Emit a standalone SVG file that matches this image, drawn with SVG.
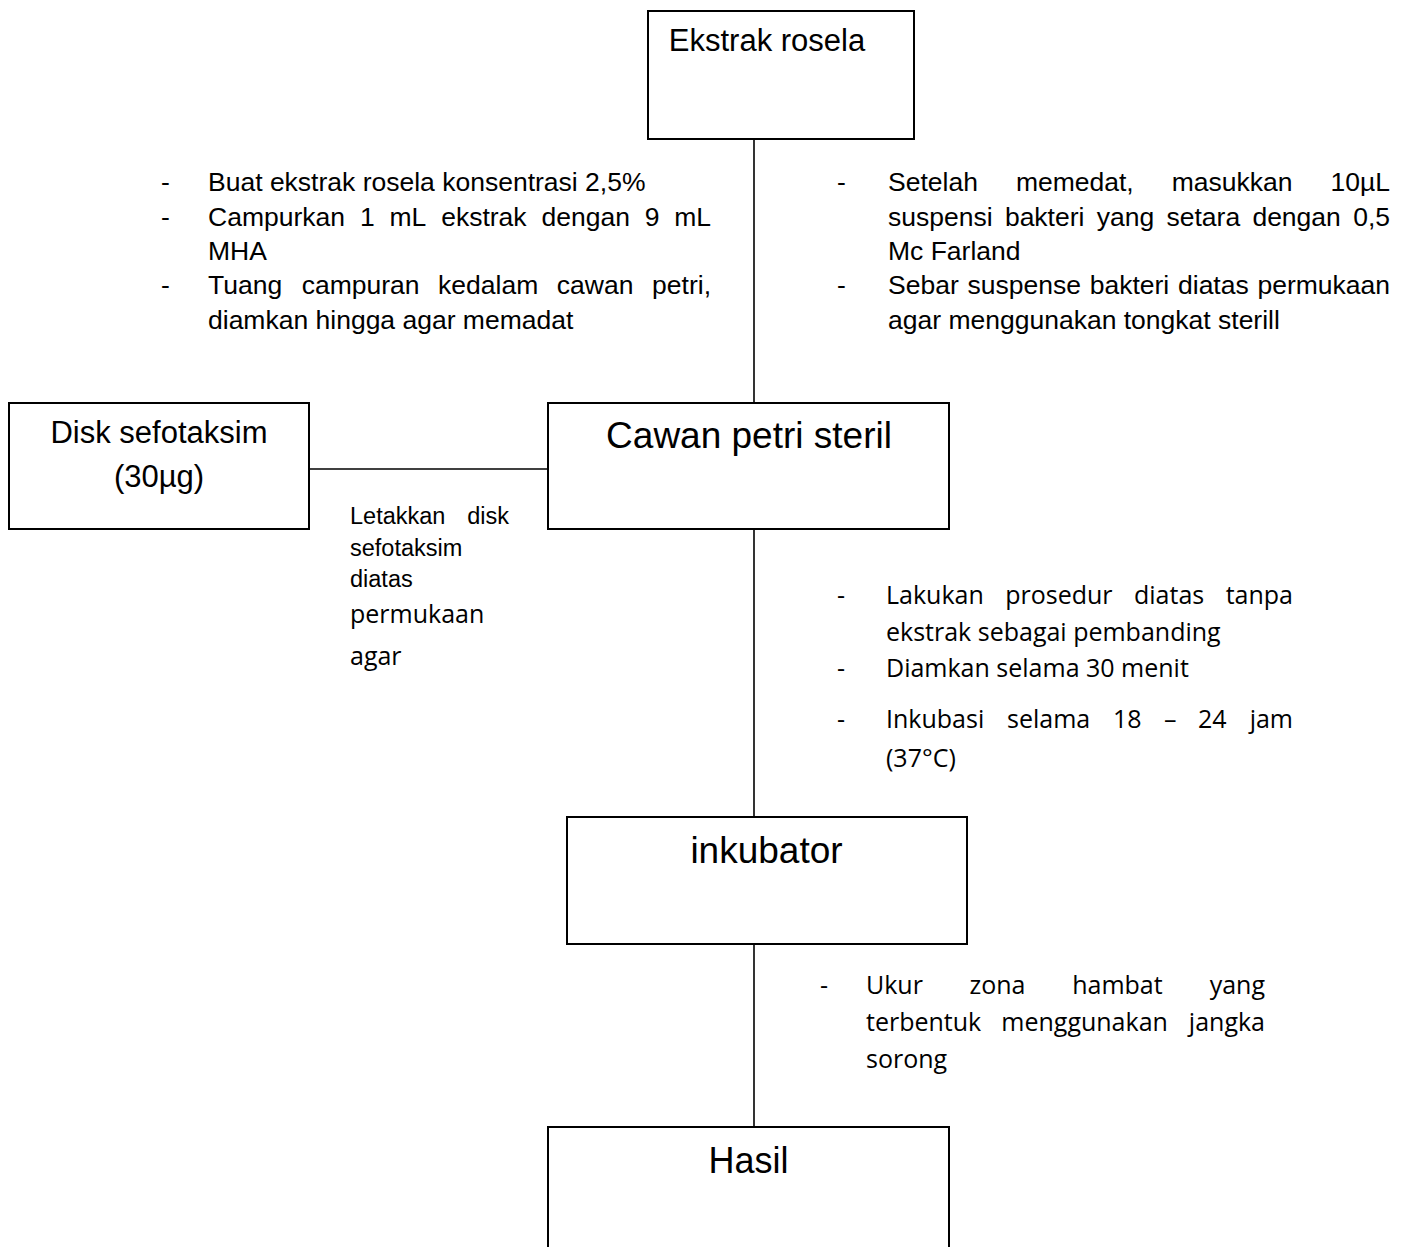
<svg xmlns="http://www.w3.org/2000/svg" width="1406" height="1247" viewBox="0 0 1406 1247">
<style>
  .box { fill: #ffffff; stroke: #000000; stroke-width: 2; }
  .conn { stroke: #000000; stroke-width: 1.6; fill: none; }
  .lbl { font-family: 'Liberation Sans', Arial, sans-serif; fill: #000000; }
  .ar { font-family: 'Liberation Sans', Arial, sans-serif; font-size: 26.5px; fill: #000000; }
  .sm { font-family: 'Liberation Sans', Arial, sans-serif; font-size: 23.5px; fill: #000000; }
  .cb { font-family: 'Open Sans', 'Noto Sans', sans-serif; font-size: 25px; fill: #000000; }
  .end { text-anchor: end; }
  .mid { text-anchor: middle; }
</style>
<rect width="1406" height="1247" fill="#ffffff"/>

<g id="connectors">
  <line class="conn" x1="754" y1="139" x2="754" y2="403"/>
  <line class="conn" x1="309" y1="469" x2="548" y2="469"/>
  <line class="conn" x1="754" y1="529" x2="754" y2="817"/>
  <line class="conn" x1="754" y1="944" x2="754" y2="1127"/>
</g>

<g id="node-ekstrak">
  <rect class="box" x="648" y="11" width="266" height="128"/>
  <text class="lbl mid" x="767" y="51" font-size="31">Ekstrak rosela</text>
</g>

<g id="node-cawan">
  <rect class="box" x="548" y="403" width="401" height="126"/>
  <text class="lbl mid" x="749" y="448" font-size="37">Cawan petri steril</text>
</g>

<g id="node-disk">
  <rect class="box" x="9" y="403" width="300" height="126"/>
  <text class="lbl mid" x="159" y="443" font-size="31">Disk sefotaksim</text>
  <text class="lbl mid" x="159" y="487" font-size="31">(30µg)</text>
</g>

<g id="node-inkubator">
  <rect class="box" x="567" y="817" width="400" height="127"/>
  <text class="lbl mid" x="766.5" y="863" font-size="37">inkubator</text>
</g>

<g id="node-hasil">
  <rect class="box" x="548" y="1127" width="401" height="140"/>
  <text class="lbl mid" x="748.5" y="1173" font-size="36">Hasil</text>
</g>

<g id="note-left">
  <text class="ar" x="161" y="191">-</text>
  <text class="ar" x="208" y="191">Buat ekstrak rosela konsentrasi 2,5%</text>
  <text class="ar" x="161" y="226">-</text>
  <text class="ar" y="226"><tspan x="208">Campurkan</tspan><tspan x="359.9">1</tspan><tspan x="389.5">mL</tspan><tspan x="441.2">ekstrak</tspan><tspan x="541.5">dengan</tspan><tspan x="644.8">9</tspan></text>
  <text class="ar end" x="711" y="226">mL</text>
  <text class="ar" x="208" y="260">MHA</text>
  <text class="ar" x="161" y="294">-</text>
  <text class="ar" y="294"><tspan x="208">Tuang</tspan><tspan x="301.7">campuran</tspan><tspan x="438.1">kedalam</tspan><tspan x="556.8">cawan</tspan></text>
  <text class="ar end" x="711" y="294">petri,</text>
  <text class="ar" x="208" y="329">diamkan hingga agar memadat</text>
</g>

<g id="note-right">
  <text class="ar" x="837" y="191">-</text>
  <text class="ar" y="191"><tspan x="888">Setelah</tspan><tspan x="1015.9">memedat,</tspan><tspan x="1171.7">masukkan</tspan></text>
  <text class="ar end" x="1390" y="191">10µL</text>
  <text class="ar" y="226"><tspan x="888">suspensi</tspan><tspan x="1004.9">bakteri</tspan><tspan x="1096.7">yang</tspan><tspan x="1166.5">setara</tspan><tspan x="1252.4">dengan</tspan></text>
  <text class="ar end" x="1390" y="226">0,5</text>
  <text class="ar" x="888" y="260">Mc Farland</text>
  <text class="ar" x="837" y="294">-</text>
  <text class="ar" y="294"><tspan x="888">Sebar</tspan><tspan x="967.5">suspense</tspan><tspan x="1089.7">bakteri</tspan><tspan x="1178">diatas</tspan></text>
  <text class="ar end" x="1390" y="294">permukaan</text>
  <text class="ar" x="888" y="329">agar menggunakan tongkat sterill</text>
</g>

<g id="note-disk">
  <text class="sm" x="350" y="524">Letakkan</text>
  <text class="sm end" x="509" y="524">disk</text>
  <text class="sm" x="350" y="556">sefotaksim</text>
  <text class="sm" x="350" y="587">diatas</text>
  <text class="cb" x="350" y="623">permukaan</text>
  <text class="cb" x="350" y="665">agar</text>
</g>

<g id="note-incubate">
  <text class="cb" x="837" y="604">-</text>
  <text class="cb" y="604"><tspan x="886">Lakukan</tspan><tspan x="1005.2">prosedur</tspan><tspan x="1134">diatas</tspan></text>
  <text class="cb end" x="1293" y="604">tanpa</text>
  <text class="cb" x="886" y="641">ekstrak sebagai pembanding</text>
  <text class="cb" x="837" y="677">-</text>
  <text class="cb" x="886" y="677">Diamkan selama 30 menit</text>
  <text class="cb" x="837" y="728">-</text>
  <text class="cb" y="728"><tspan x="886">Inkubasi</tspan><tspan x="1007">selama</tspan><tspan x="1113">18</tspan><tspan x="1164">–</tspan><tspan x="1198">24</tspan></text>
  <text class="cb end" x="1293" y="728">jam</text>
  <text class="cb" x="886" y="767">(37°C)</text>
</g>

<g id="note-measure">
  <text class="cb" x="820" y="994">-</text>
  <text class="cb" y="994"><tspan x="866">Ukur</tspan><tspan x="969.5">zona</tspan><tspan x="1072.2">hambat</tspan></text>
  <text class="cb end" x="1265" y="994">yang</text>
  <text class="cb" y="1031"><tspan x="866">terbentuk</tspan><tspan x="1001.3">menggunakan</tspan></text>
  <text class="cb end" x="1265" y="1031">jangka</text>
  <text class="cb" x="866" y="1068">sorong</text>
</g>
</svg>
